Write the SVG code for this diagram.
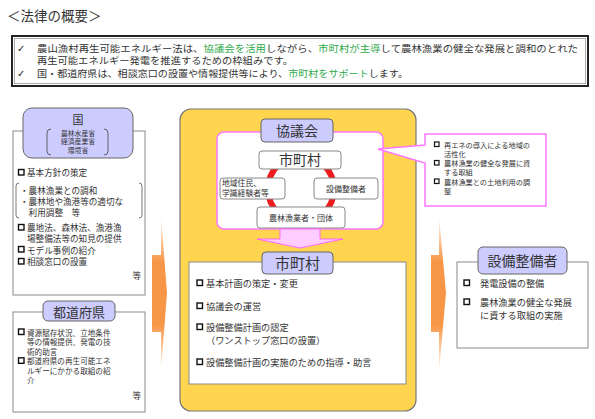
<svg xmlns="http://www.w3.org/2000/svg" width="595" height="419" viewBox="0 0 595 419">
<defs>
<style>
text{font-family:"Noto Sans CJK JP","Noto Sans CJK SC",sans-serif;fill:#333}
.lav{fill:#ccccff;stroke:#666;stroke-width:1}
.wbox{fill:#fff;stroke:#8a8a8a;stroke-width:1}
.ibox{fill:#fff;stroke:#888;stroke-width:1}
.bul{fill:#fff;stroke:#111;stroke-width:1.4}
.g{fill:#2eaa4a}
.s8{font-size:8.6px}
.s9{font-size:9.2px}
.c{text-anchor:middle}
.ck{font-family:"DejaVu Sans",sans-serif;font-size:10px;fill:#222}
</style>
<linearGradient id="og" x1="0" y1="0" x2="0" y2="1">
<stop offset="0" stop-color="#f79646" stop-opacity="0"/>
<stop offset="0.3" stop-color="#f79646"/>
<stop offset="0.7" stop-color="#f79646"/>
<stop offset="1" stop-color="#f79646" stop-opacity="0"/>
</linearGradient>
</defs>
<rect width="595" height="419" fill="#fff"/>

<text x="7" y="21" style="font-size:13.5px">＜法律の概要＞</text>

<g id="summary">
<rect x="12" y="36" width="576" height="50" fill="#fff" stroke="#222" stroke-width="2"/>
<rect x="14.5" y="38.5" width="571" height="45" fill="none" stroke="#aaa" stroke-width="1"/>
<text class="ck" x="17" y="51.5">✓<tspan x="17" y="76.7">✓</tspan></text>
<text x="37" y="51.5" style="font-size:9.4px"><tspan textLength="541" lengthAdjust="spacingAndGlyphs">農山漁村再生可能エネルギー法は、<tspan class="g">協議会を活用</tspan>しながら、<tspan class="g">市町村が主導</tspan>して農林漁業の健全な発展と調和のとれた</tspan><tspan x="37" y="64.1" textLength="256" lengthAdjust="spacingAndGlyphs">再生可能エネルギー発電を推進するための枠組みです。</tspan><tspan x="37" y="76.7" textLength="371" lengthAdjust="spacingAndGlyphs">国・都道府県は、相談窓口の設置や情報提供等により、<tspan class="g">市町村をサポート</tspan>します。</tspan></text>
</g>

<g id="connectors">
<path d="M152,255 H161 V215 L167,293 L161,372 V332 H152 Z" fill="url(#og)"/>
<path d="M431,255 H439 V215 L446,293 L439,372 V332 H431 Z" fill="url(#og)"/>
</g>

<g id="kuni">
<rect class="wbox" x="13" y="131" width="132" height="164"/>
<rect class="lav" x="23" y="108" width="110" height="50" rx="9"/>
<text class="c" x="78" y="124" style="font-size:11px">国</text>
<path d="M51,129 Q47,129 47,133 V151 Q47,155 51,155 M104,129 Q108,129 108,133 V151 Q108,155 104,155" fill="none" stroke="#444" stroke-width="0.8"/>
<text class="c" x="78" y="135.5" style="font-size:6.8px">農林水産省<tspan x="78" y="144">経済産業省</tspan><tspan x="78" y="152.5">環境省</tspan></text>
<rect class="bul" x="18.5" y="169.5" width="5.5" height="5.5"/>
<rect class="bul" x="18.5" y="224.5" width="5.5" height="5.5"/>
<rect class="bul" x="18.5" y="246.5" width="5.5" height="5.5"/>
<rect class="bul" x="18.5" y="258.5" width="5.5" height="5.5"/>
<path d="M19,183 Q16,183 16,186 V215 Q16,218 19,218 M139,183 Q142,183 142,186 V215 Q142,218 139,218" fill="none" stroke="#555" stroke-width="0.8"/>
<text class="s8" x="27" y="176">基本方針の策定<tspan x="20" y="194">・農林漁業との調和</tspan><tspan x="20" y="205">・農林地や漁港等の適切な</tspan><tspan x="28.6" y="216">利用調整　等</tspan><tspan x="27" y="231">農地法、森林法、漁港漁</tspan><tspan x="27" y="242">場整備法等の知見の提供</tspan><tspan x="27" y="253.5">モデル事例の紹介</tspan><tspan x="27" y="265">相談窓口の設置</tspan></text>
<text class="s8" x="141" y="279" text-anchor="end">等</text>
</g>

<g id="todofuken">
<rect class="wbox" x="13" y="312" width="132" height="100"/>
<rect class="lav" x="43" y="301" width="72" height="20" rx="5"/>
<text class="c" x="79" y="316.5" style="font-size:13px">都道府県</text>
<rect class="bul" x="18.5" y="329" width="5.5" height="5.5"/>
<rect class="bul" x="18.5" y="357.8" width="5.5" height="5.5"/>
<text x="27" y="335.5" style="font-size:7.6px">資源賦存状況、立地条件<tspan x="27" y="345.1">等の情報提供、発電の技</tspan><tspan x="27" y="354.7">術的助言</tspan><tspan x="27" y="364.3">都道府県の再生可能エネ</tspan><tspan x="27" y="373.9">ルギーにかかる取組の紹</tspan><tspan x="27" y="383.5">介</tspan></text>
<text class="s8" x="141" y="399" text-anchor="end">等</text>
</g>

<g id="municipality-area">
<rect x="180" y="109" width="236" height="302" rx="11" fill="#ffd44f" stroke="#777" stroke-width="1.2"/>
</g>

<g id="kyogikai">
<rect x="217" y="132" width="166" height="97" rx="7" fill="#fff" stroke="#ff77ff" stroke-width="1.5"/>
<rect class="lav" x="261" y="119" width="72" height="23" rx="4"/>
<text class="c" x="297" y="136" style="font-size:14px">協議会</text>
<circle cx="301" cy="189" r="33" fill="none" stroke="#ee1c1c" stroke-width="6"/>
</g>

<g id="k-shichoson">
<rect class="ibox" x="259" y="151" width="82" height="18" rx="3"/>
<text class="c" x="300" y="165" style="font-size:14px">市町村</text>
</g>
<g id="k-jumin">
<rect class="ibox" x="220" y="178" width="65" height="21" rx="3"/>
<text x="222" y="186" style="font-size:7.8px">地域住民、<tspan x="222" y="196">学識経験者等</tspan></text>
</g>
<g id="k-setsubi">
<rect class="ibox" x="314" y="178" width="64" height="21" rx="3"/>
<text class="c" x="346" y="192" style="font-size:8px">設備整備者</text>
</g>
<g id="k-noringyo">
<rect class="ibox" x="257" y="207" width="88" height="21" rx="3"/>
<text class="c" x="301" y="221" style="font-size:8px">農林漁業者・団体</text>
</g>

<g id="callout">
<path d="M425,134 H546 V206 H425 V163 L378,149 L425,145 Z" fill="#fff" stroke="#ff77ff" stroke-width="1.5"/>
<rect class="bul" x="434.5" y="142" width="4.5" height="4.5" style="stroke-width:1.2"/>
<rect class="bul" x="434.5" y="160.5" width="4.5" height="4.5" style="stroke-width:1.2"/>
<rect class="bul" x="434.5" y="179" width="4.5" height="4.5" style="stroke-width:1.2"/>
<text x="444" y="147.5" style="font-size:7.2px">再エネの導入による地域の<tspan x="444" y="156.5">活性化</tspan><tspan x="444" y="166">農林漁業の健全な発展に資</tspan><tspan x="444" y="175">する取組</tspan><tspan x="444" y="184.5">農林漁業との土地利用の調</tspan><tspan x="444" y="193.5">整</tspan></text>
</g>

<g id="pink-arrow">
<path d="M280,229 H320 V239 H343 L300,248 L257,239 H280 Z" fill="#ffccff" stroke="#ff66ff" stroke-width="1"/>
</g>

<g id="shichoson">
<rect class="wbox" x="189" y="262" width="217" height="122"/>
<rect class="lav" x="262" y="252" width="71" height="22" rx="4"/>
<text class="c" x="297.5" y="269" style="font-size:15px">市町村</text>
<rect class="bul" x="197" y="280" width="5.5" height="5.5"/>
<rect class="bul" x="197" y="303" width="5.5" height="5.5"/>
<rect class="bul" x="197" y="324" width="5.5" height="5.5"/>
<rect class="bul" x="197" y="359" width="5.5" height="5.5"/>
<text class="s9" x="206" y="286.5">基本計画の策定・変更<tspan x="206" y="309.5">協議会の運営</tspan><tspan x="206" y="330.5">設備整備計画の認定</tspan><tspan x="206" y="344">（ワンストップ窓口の設置）</tspan><tspan x="206" y="365.5">設備整備計画の実施のための指導・助言</tspan></text>
</g>

<g id="setsubiseibisha">
<rect class="wbox" x="457" y="262" width="131" height="86"/>
<rect class="lav" x="478" y="247" width="89" height="27" rx="5"/>
<text class="c" x="522.5" y="266" style="font-size:14px">設備整備者</text>
<rect class="bul" x="464" y="280" width="5.5" height="5.5"/>
<rect class="bul" x="464" y="299" width="5.5" height="5.5"/>
<text class="s9" x="480" y="286.5">発電設備の整備<tspan x="480" y="305.5">農林漁業の健全な発展</tspan><tspan x="480" y="319">に資する取組の実施</tspan></text>
</g>
</svg>
